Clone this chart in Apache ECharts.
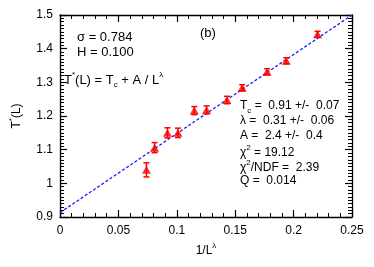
<!DOCTYPE html>
<html><head><meta charset="utf-8">
<script src="https://cdn.jsdelivr.net/npm/echarts@6/dist/echarts.min.js"></script>
<style>html,body{margin:0;padding:0;background:#fff}#c{width:374px;height:267px}</style>
</head><body><div id="c"></div>
<script>
const xVals = [0.074, 0.081, 0.092, 0.101, 0.115, 0.1255, 0.143, 0.156, 0.1773, 0.1937, 0.2205];
const yVals = [1.040, 1.106, 1.150, 1.150, 1.216, 1.218, 1.2475, 1.284, 1.3316, 1.364, 1.4426];
const yErr  = [0.021, 0.015, 0.015, 0.014, 0.012, 0.012, 0.011, 0.009, 0.009, 0.009, 0.009];
const fitX = [0, 0.25];
const fitY = [0.913, 1.5];
const xTicks = {min: 0, max: 0.25, step: 0.05};
const yTicks = {min: 0.9, max: 1.5, step: 0.1};

const FONT = 'Liberation Sans';
const pts = xVals.map((x, i) => [x, yVals[i], yErr[i]]);
const fitData = fitX.map((x, i) => [x, fitY[i]]);

const chart = echarts.init(document.getElementById('c'), null, {renderer: 'canvas'});

function axisCommon(extra) {
  return Object.assign({
    axisLine: {show: true, onZero: false, lineStyle: {color: '#000', width: 1.3}},
    axisTick: {show: true, inside: true, length: 7, lineStyle: {color: '#000', width: 1.2}},
    minorTick: {show: true, length: 4, lineStyle: {color: '#000', width: 1}},
    splitLine: {show: false},
    minorSplitLine: {show: false},
    axisLabel: {color: '#000', fontFamily: FONT, fontSize: 12}
  }, extra);
}

const supRich = {
  sup: {fontSize: 8, fontFamily: FONT, color: '#000', verticalAlign: 'top', lineHeight: 8},
  base: {fontSize: 12, fontFamily: FONT, color: '#000', lineHeight: 17}
};
function mkRich(fs) {
  return {
    base: {fontSize: fs, fontFamily: FONT, color: '#000', lineHeight: fs + 5},
    sub: {fontSize: 8, fontFamily: FONT, color: '#000', verticalAlign: 'bottom', lineHeight: 8},
    sup: {fontSize: 8, fontFamily: FONT, color: '#000', verticalAlign: 'top', lineHeight: 8}
  };
}
const rich12 = mkRich(12);
const rich13 = mkRich(13);

function txt(x, y, text, rich) {
  return {type: 'text', left: x, top: y, z: 10,
    style: {text: text, rich: rich || rich12, fill: '#000', font: '12px ' + FONT}};
}

chart.setOption({
  animation: false,
  backgroundColor: '#fff',
  grid: {left: 47, right: 22, top: 15, bottom: 50},
  xAxis: [
    axisCommon({type: 'value', min: xTicks.min, max: xTicks.max, interval: xTicks.step, position: 'bottom',
      minorTick: {show: true, splitNumber: 5, length: 4, lineStyle: {color: '#000', width: 1}},
      axisLabel: {color: '#000', fontFamily: FONT, fontSize: 12, margin: 8},
      name: '{base|1/L}{sup|λ}', nameLocation: 'middle', nameGap: 25,
      nameTextStyle: {rich: supRich}}),
    axisCommon({type: 'value', min: xTicks.min, max: xTicks.max, interval: xTicks.step, position: 'top',
      minorTick: {show: true, splitNumber: 5, length: 4, lineStyle: {color: '#000', width: 1}},
      axisLabel: {show: false}})
  ],
  yAxis: [
    axisCommon({type: 'value', min: yTicks.min, max: yTicks.max, interval: yTicks.step, position: 'left',
      minorTick: {show: true, splitNumber: 10, length: 4, lineStyle: {color: '#000', width: 1}},
      axisLabel: {color: '#000', fontFamily: FONT, fontSize: 12, margin: 7,
        formatter: v => (Math.round(v * 10) / 10).toString()},
      name: '{base|T}{sup|*}{base|(L)}', nameLocation: 'middle', nameGap: 35, nameRotate: 90,
      nameTextStyle: {rich: supRich}}),
    axisCommon({type: 'value', min: yTicks.min, max: yTicks.max, interval: yTicks.step, position: 'right',
      minorTick: {show: true, splitNumber: 10, length: 4, lineStyle: {color: '#000', width: 1}},
      axisLabel: {show: false}})
  ],
  series: [
    {type: 'line', data: fitData, xAxisIndex: 0, yAxisIndex: 0, showSymbol: false, symbol: 'none',
      lineStyle: {color: '#1a1aff', width: 1.3, type: [3, 2]}, z: 2},
    {type: 'custom', xAxisIndex: 0, yAxisIndex: 0, data: pts, z: 3,
      renderItem: function (params, api) {
        const x = api.value(0), y = api.value(1), e = api.value(2);
        const lo = api.coord([x, y - e]);
        const hi = api.coord([x, y + e]);
        const w = 3;
        const st = {stroke: '#ff0000', lineWidth: 1.5};
        return {type: 'group', children: [
          {type: 'line', shape: {x1: lo[0], y1: lo[1], x2: hi[0], y2: hi[1]}, style: st},
          {type: 'line', shape: {x1: lo[0] - w, y1: lo[1], x2: lo[0] + w, y2: lo[1]}, style: st},
          {type: 'line', shape: {x1: hi[0] - w, y1: hi[1], x2: hi[0] + w, y2: hi[1]}, style: st}
        ]};
      }},
    {type: 'scatter', xAxisIndex: 0, yAxisIndex: 0, data: pts.map(p => [p[0], p[1]]),
      symbol: 'triangle', symbolSize: [9, 8], itemStyle: {color: '#ff0000'}, z: 4}
  ],
  graphic: [
    txt(77, 31, '{base|σ = 0.784}', rich13),
    txt(77, 46, '{base|H = 0.100}', rich13),
    txt(64, 71, '{base|T}{sup|*}{base|(L) = T}{sub|c}{base| + A / L}{sup|λ}', rich13),
    txt(200, 27, '{base|(b)}', rich13),
    txt(240, 100, '{base|T}{sub|c}{base| =  0.91 +/-  0.07}'),
    txt(240, 115, '{base|λ =  0.31 +/-  0.06}'),
    txt(240, 130, '{base|A =  2.4 +/-  0.4}'),
    txt(240, 144, '{base|χ}{sup|2}{base| = 19.12}'),
    txt(240, 159, '{base|χ}{sup|2}{base|/NDF =  2.39}'),
    txt(240, 175, '{base|Q =  0.014}')
  ]
});
</script></body></html>
